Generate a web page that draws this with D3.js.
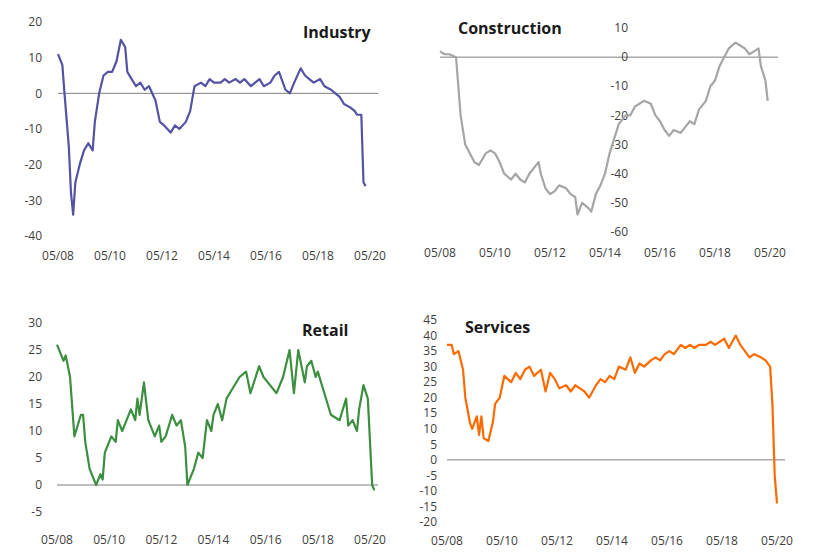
<!DOCTYPE html>
<html>
<head>
<meta charset="utf-8">
<script src="https://cdn.jsdelivr.net/npm/d3@7"></script>
<style>
  body { margin: 0; background: #fff; }
  text { font-family: "Open Sans", sans-serif; }
</style>
</head>
<body>
<svg id="chart" width="815" height="560"></svg>
<script>
// months counted from May 2008
const industryMonths = [0,2,3,5,6,7,8,10,12,14,16,17,19,21,23,25,27,29,31,32,34,36,38,40,42,45,47,49,52,54,56,59,61,63,66,68,70,72,75,77,79,82,84,86,89,91,93,95,98,100,102,105,107,109,112,114,116,118,121,123,126,128,130,132,135,137,138,140,141,142];
const industryValues = [11,8,0,-15,-28,-34,-25,-20,-16,-14,-16,-8,0,5,6,6,9,15,13,6,4,2,3,1,2,-2,-8,-9,-11,-9,-10,-8,-5,2,3,2,4,3,3,4,3,4,3,4,2,3,4,2,3,5,6,1,0,3,7,5,4,3,4,2,1,0,-1,-3,-4,-5,-6,-6,-25,-26];

const constructionMonths = [0,2,4,7,8,9,11,13,15,17,20,22,24,26,28,31,33,35,37,39,41,43,44,46,48,50,52,55,57,59,60,62,65,66,68,70,72,74,76,78,81,83,85,87,89,92,94,96,98,100,102,105,107,109,111,113,116,118,120,122,124,126,129,131,133,135,137,139,140,142,143];
const constructionValues = [2,1,1,0,-10,-20,-30,-33,-36,-37,-33,-32,-33,-36,-40,-42,-40,-42,-43,-40,-38,-36,-40,-45,-47,-46,-44,-45,-47,-48,-54,-50,-52,-53,-47,-44,-40,-33,-28,-23,-20,-20,-17,-16,-15,-16,-20,-22,-25,-27,-25,-26,-24,-22,-23,-18,-15,-10,-8,-3,0,3,5,4,3,1,2,3,-3,-8,-15];

const retailMonths = [0,2,3,4,6,8,11,12,13,15,18,20,21,22,25,27,28,30,31,34,36,37,38,40,42,45,47,48,50,53,55,57,59,60,63,65,67,69,71,72,74,76,78,81,84,87,89,93,95,97,101,104,107,109,111,114,115,117,119,120,123,126,130,133,134,136,138,139,141,143,145,146];
const retailValues = [26,24,23,24,20,9,13,13,8,3,0,2,1,6,9,8,12,10,11,14,12,16,13,19,12,9,11,8,9,13,11,12,7,0,3,6,5,12,10,13,15,12,16,18,20,21,17,22,20,19,17,20,25,17,25,19,22,23,20,21,17,13,12,16,11,12,10,14,18.5,16,0,-1];

const servicesMonths = [0,2,3,5,7,8,10,11,13,14,15,16,18,20,21,23,25,28,30,32,34,36,38,41,43,45,47,49,52,54,56,58,60,62,65,67,69,71,73,75,78,80,82,84,86,89,91,93,95,97,99,102,104,106,108,110,113,115,117,119,121,123,126,128,130,132,134,137,139,141,142,143,144];
const servicesValues = [37,37,34,35,29,20,12,10,14,8,14,7,6,12,18,20,27,25,28,26,29,30,27,29,22,28,26,23,24,22,24,23,22,20,24,26,25,27,26,30,29,33,28,31,30,32,33,32,34,35,34,37,36,37,36,37,37,38,37,38,39,36,40,37,35,33,34,33,32,30,18,-5,-14];

const xTickLabels = ["05/08","05/10","05/12","05/14","05/16","05/18","05/20"];

const panels = [
  { title: "Industry", months: industryMonths, values: industryValues, color: "#5452a3",
    x0: 58, x1: 370, yTop: 22, yBot: 236, yMax: 20, yMin: -40, yStep: 10, yLabelX: 42, xLabelY: 256,
    titleX: 303, titleY: 38 },
  { title: "Construction", months: constructionMonths, values: constructionValues, color: "#a5a5a5",
    x0: 440, x1: 770, yTop: 28, yBot: 232, yMax: 10, yMin: -60, yStep: 10, yLabelX: 628, xLabelY: 253,
    titleX: 458, titleY: 34 },
  { title: "Retail", months: retailMonths, values: retailValues, color: "#3b8f3f",
    x0: 57, x1: 370, yTop: 323, yBot: 512, yMax: 30, yMin: -5, yStep: 5, yLabelX: 42, xLabelY: 540,
    titleX: 302, titleY: 336 },
  { title: "Services", months: servicesMonths, values: servicesValues, color: "#ff6a00",
    x0: 447, x1: 777, yTop: 320, yBot: 522, yMax: 45, yMin: -20, yStep: 5, yLabelX: 437, xLabelY: 541,
    titleX: 465, titleY: 333 }
];

const svg = d3.select("#chart");

panels.forEach(p => {
  const g = svg.append("g");
  const x = d3.scaleLinear().domain([0, 144]).range([p.x0, p.x1]);
  const y = d3.scaleLinear().domain([p.yMin, p.yMax]).range([p.yBot, p.yTop]);

  // zero line
  g.append("line")
    .attr("x1", x(0)).attr("x2", x(144) + 8)
    .attr("y1", y(0)).attr("y2", y(0))
    .attr("stroke", "#7f7f7f").attr("stroke-width", 1);

  // y labels
  const yTicks = d3.range(p.yMin, p.yMax + 0.001, p.yStep);
  g.selectAll(".yl").data(yTicks).join("text")
    .attr("x", p.yLabelX).attr("y", d => y(d))
    .attr("dy", "0.35em").attr("text-anchor", "end")
    .attr("font-size", 12).attr("fill", "#404040")
    .text(d => d);

  // x labels
  g.selectAll(".xl").data(xTickLabels).join("text")
    .attr("x", (d, i) => x(i * 24)).attr("y", p.xLabelY)
    .attr("dy", "0.35em").attr("text-anchor", "middle")
    .attr("font-size", 12).attr("fill", "#404040")
    .text(d => d);

  const line = d3.line()
    .x((d, i) => x(p.months[i]))
    .y(d => y(d));
  g.append("path")
    .datum(p.values)
    .attr("d", line)
    .attr("fill", "none")
    .attr("stroke", p.color)
    .attr("stroke-width", 2.2)
    .attr("stroke-linejoin", "round");

  g.append("text")
    .attr("x", p.titleX).attr("y", p.titleY)
    .attr("font-size", 16).attr("font-weight", "bold").attr("fill", "#1a1a1a")
    .text(p.title);
});
</script>
</body>
</html>
